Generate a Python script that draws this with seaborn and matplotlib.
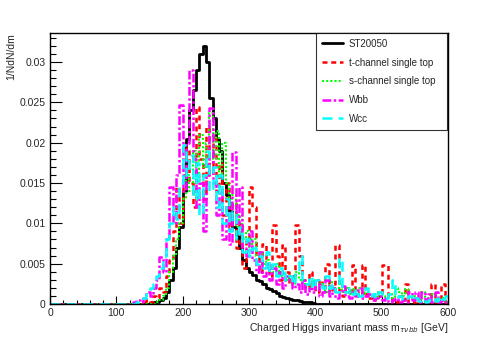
import numpy as np
import pandas as pd
import matplotlib
matplotlib.use("Agg")
import matplotlib.pyplot as plt
from matplotlib.ticker import MultipleLocator, FuncFormatter
import seaborn as sns

# 5 GeV bins from 0 to 600 GeV, values only listed from the first non-empty bin
bin_width = 5
n_bins = 120

st20050_start = 150
st20050 = [0.0001, 0.0002, 0.0003, 0.0005, 0.0008, 0.0015, 0.0030, 0.0045, 0.0070, 0.0095,
           0.0140, 0.0205, 0.0240, 0.0265, 0.0290, 0.0310, 0.0320, 0.0300, 0.0255, 0.0230,
           0.0205, 0.0190, 0.0150, 0.0135, 0.0115, 0.0095, 0.0085, 0.0070, 0.0055, 0.0045,
           0.0040, 0.0036, 0.0030, 0.0028, 0.0025, 0.0020, 0.0018, 0.0016, 0.0014, 0.0010,
           0.0009, 0.0008, 0.0006, 0.0005, 0.0005, 0.0004, 0.0003, 0.0002, 0.0002, 0.0001]

tchan_start = 140
tchan = [0.0002, 0.0005, 0.0003, 0.0010, 0.0008, 0.0020, 0.0015, 0.0035, 0.0055, 0.0090,
         0.0145, 0.0100, 0.0160, 0.0193, 0.0150, 0.0120, 0.0244, 0.0180, 0.0130, 0.0220,
         0.0160, 0.0210, 0.0140, 0.0175, 0.0110, 0.0150, 0.0095, 0.0125, 0.0070, 0.0100,
         0.0045, 0.0080, 0.0145, 0.0120, 0.0060, 0.0040, 0.0075, 0.0050, 0.0035, 0.0098,
         0.0060, 0.0030, 0.0073, 0.0040, 0.0025, 0.0035, 0.0098, 0.0060, 0.0030, 0.0020,
         0.0040, 0.0025, 0.0015, 0.0030, 0.0020, 0.0050, 0.0015, 0.0025, 0.0073, 0.0015,
         0.0010, 0.0020, 0.0012, 0.0048, 0.0015, 0.0010, 0.0048, 0.0012, 0.0008, 0.0010,
         0.0005, 0.0010, 0.0048, 0.0048, 0.0008, 0.0005, 0.0003, 0.0010, 0.0005, 0.0025,
         0.0002, 0.0003, 0.0000, 0.0002, 0.0005, 0.0002, 0.0000, 0.0025, 0.0003, 0.0005,
         0.0025, 0.0002]

schan_start = 160
schan = [0.0002, 0.0005, 0.0010, 0.0020, 0.0040, 0.0060, 0.0080, 0.0100, 0.0130, 0.0160,
         0.0140, 0.0190, 0.0150, 0.0210, 0.0170, 0.0200, 0.0237, 0.0180, 0.0215, 0.0160,
         0.0200, 0.0150, 0.0120, 0.0135, 0.0095, 0.0110, 0.0080, 0.0090, 0.0070, 0.0080,
         0.0060, 0.0065, 0.0050, 0.0055, 0.0045, 0.0040, 0.0050, 0.0035, 0.0040, 0.0030,
         0.0035, 0.0025, 0.0040, 0.0030, 0.0025, 0.0030, 0.0020, 0.0025, 0.0030, 0.0020,
         0.0025, 0.0015, 0.0028, 0.0020, 0.0015, 0.0025, 0.0015, 0.0020, 0.0012, 0.0018,
         0.0010, 0.0020, 0.0012, 0.0015, 0.0010, 0.0012, 0.0008, 0.0015, 0.0010, 0.0008,
         0.0012, 0.0008, 0.0020, 0.0015, 0.0010, 0.0018, 0.0008, 0.0010, 0.0008, 0.0006,
         0.0015, 0.0005, 0.0008, 0.0012, 0.0006, 0.0004, 0.0008, 0.0003]

wbb_start = 125
wbb = [0.0002, 0.0005, 0.0003, 0.0008, 0.0015, 0.0010, 0.0020, 0.0030, 0.0058, 0.0040,
       0.0080, 0.0145, 0.0100, 0.0160, 0.0247, 0.0140, 0.0200, 0.0290, 0.0180, 0.0120,
       0.0150, 0.0090, 0.0160, 0.0243, 0.0150, 0.0110, 0.0140, 0.0080, 0.0120, 0.0075,
       0.0188, 0.0100, 0.0145, 0.0070, 0.0060, 0.0090, 0.0055, 0.0040, 0.0065, 0.0035,
       0.0050, 0.0030, 0.0045, 0.0025, 0.0040, 0.0020, 0.0035, 0.0030, 0.0020, 0.0025,
       0.0015, 0.0030, 0.0012, 0.0020, 0.0015, 0.0030, 0.0010, 0.0015, 0.0030, 0.0010,
       0.0020, 0.0008, 0.0015, 0.0022, 0.0010, 0.0008, 0.0015, 0.0010, 0.0020, 0.0008,
       0.0010, 0.0012, 0.0005, 0.0008, 0.0010, 0.0005, 0.0008, 0.0003, 0.0005, 0.0008,
       0.0003, 0.0005, 0.0002, 0.0015, 0.0005, 0.0015, 0.0003, 0.0015, 0.0005, 0.0012,
       0.0002, 0.0015, 0.0003, 0.0005, 0.0002]

wcc_start = 130
wcc = [0.0003, 0.0005, 0.0008, 0.0012, 0.0020, 0.0025, 0.0035, 0.0045, 0.0060, 0.0080,
       0.0100, 0.0120, 0.0105, 0.0150, 0.0197, 0.0160, 0.0185, 0.0130, 0.0175, 0.0110,
       0.0160, 0.0190, 0.0140, 0.0170, 0.0120, 0.0160, 0.0100, 0.0130, 0.0090, 0.0115,
       0.0080, 0.0095, 0.0065, 0.0080, 0.0060, 0.0070, 0.0050, 0.0060, 0.0045, 0.0065,
       0.0040, 0.0050, 0.0035, 0.0045, 0.0030, 0.0040, 0.0035, 0.0025, 0.0040, 0.0060,
       0.0030, 0.0025, 0.0035, 0.0020, 0.0030, 0.0025, 0.0020, 0.0035, 0.0020, 0.0025,
       0.0015, 0.0057, 0.0020, 0.0015, 0.0020, 0.0012, 0.0018, 0.0010, 0.0015, 0.0020,
       0.0010, 0.0012, 0.0008, 0.0015, 0.0010, 0.0008, 0.0012, 0.0030, 0.0008, 0.0010,
       0.0005, 0.0008, 0.0010, 0.0005, 0.0008, 0.0004, 0.0006, 0.0003, 0.0005, 0.0008,
       0.0004, 0.0010, 0.0006, 0.0010]

labels = ["ST20050", "t-channel single top", "s-channel single top", "Wbb", "Wcc"]
series = [(st20050_start, st20050), (tchan_start, tchan), (schan_start, schan),
          (wbb_start, wbb), (wcc_start, wcc)]
colors = ["black", "#ff0000", "#00ff00", "#ff00ff", "#00ffff"]
styles = ["-", (0, (2, 1.5)), (0, (1, 1)), (0, (3.5, 1, 1, 1)), (0, (4, 2.5))]
widths = [2.0, 1.8, 1.5, 1.8, 1.8]


def full_hist(start, vals):
    h = np.zeros(n_bins)
    i0 = start // bin_width
    h[i0:i0 + len(vals)] = vals[:n_bins - i0]
    return h


centers = np.arange(n_bins) * bin_width + bin_width / 2

sns.set_style("white")
plt.rcParams['font.family'] = ['Liberation Sans', 'DejaVu Sans']
plt.rcParams['mathtext.fontset'] = 'dejavusans'

fig = plt.figure(figsize=(4.98, 3.38), dpi=100)
ax = fig.add_axes([50 / 498, 34 / 338, 398 / 498, 271 / 338])

for lab, (start, vals), c, ls, lw in zip(labels, series, colors, styles, widths):
    df = pd.DataFrame({"mass": centers, "w": full_hist(start, vals)})
    sns.histplot(data=df, x="mass", weights="w", binwidth=bin_width, binrange=(0, 600),
                 element="step", fill=False, color=c, linestyle=ls, linewidth=lw,
                 label=lab, ax=ax)

ax.set_xlim(0, 600)
ax.set_ylim(0, 0.0336)
ax.xaxis.set_major_locator(MultipleLocator(100))
ax.xaxis.set_minor_locator(MultipleLocator(20))
ax.yaxis.set_major_locator(MultipleLocator(0.005))
ax.yaxis.set_minor_locator(MultipleLocator(0.001))
ax.yaxis.set_major_formatter(FuncFormatter(lambda v, p: "%g" % round(v, 4)))
ax.tick_params(which="both", direction="in", bottom=True, left=True, top=False,
               right=False, labelsize=7.5, width=0.8, color="black")
# ROOT-like tick lengths: y ticks longer than x ticks
ax.tick_params(axis="y", which="major", length=8.6, pad=3)
ax.tick_params(axis="y", which="minor", length=4.3)
ax.tick_params(axis="x", which="major", length=5.8, pad=3)
ax.tick_params(axis="x", which="minor", length=2.9)
for s in ax.spines.values():
    s.set_visible(True)
    s.set_color("black")
    s.set_linewidth(1.0)

ax.set_xlabel(r"Charged Higgs invariant mass m$_{\tau\nu bb}$ [GeV]", fontsize=7.5,
              loc="right", labelpad=2)
ax.set_ylabel("1/NdN/dm", fontsize=7.5, loc="top")
ax.yaxis.set_label_coords(-0.085, 1.0)

leg = ax.legend(loc="upper left", bbox_to_anchor=(0.668, 0.649, 0.329, 0.351),
                mode="expand", fontsize=7, frameon=True, fancybox=False,
                handlelength=2.2, handletextpad=0.6, borderaxespad=0,
                labelspacing=0.9, borderpad=0.6)
leg.get_frame().set_edgecolor("black")
leg.get_frame().set_linewidth(0.8)

fig.savefig("out.png", dpi=100)
